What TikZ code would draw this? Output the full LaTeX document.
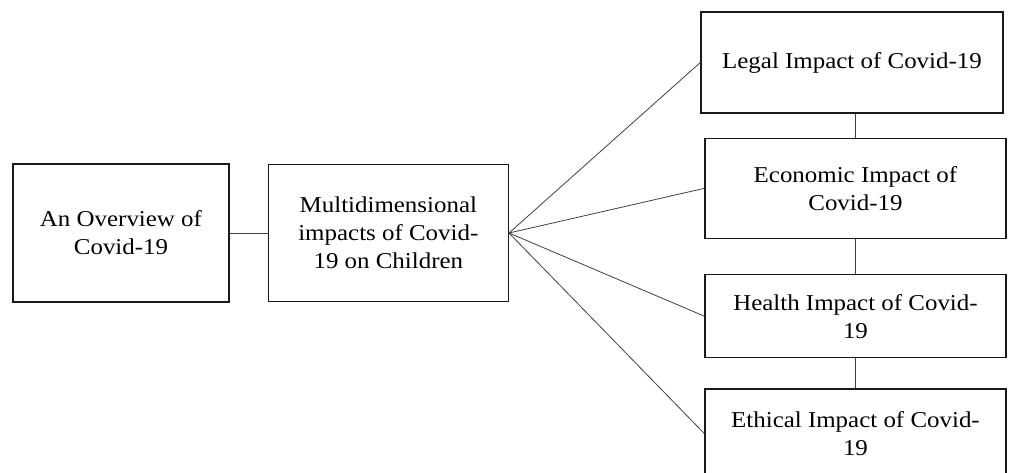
\documentclass[tikz,border=0pt]{standalone}
\usepackage{fontspec}
\setmainfont{Liberation Serif}[FakeStretch=1.1]
\usepackage{tikz}
\usetikzlibrary{calc}
\usetikzlibrary{positioning}

\begin{document}
\begin{tikzpicture}[x=0.75pt, y=-0.75pt, draw=black!85, font={\fontsize{17pt}{21pt}\selectfont}]
\tikzstyle{block}=[draw=black!90, line width=1pt, rectangle, fill=none, inner sep=0pt, align=center]
\tikzstyle{link}=[draw=black!75, line width=0.6pt]

\useasboundingbox (0,0) rectangle (1012,472);

\node[block, minimum width=162pt, minimum height=103.5pt] (overview) at (121,233) {An Overview of\\Covid-19};
\node[block, right=28.5pt of overview, minimum width=180pt, minimum height=103pt] (multi) {Multidimensional\\impacts of Covid-\\19 on Children};

\node[block, minimum width=226.5pt, minimum height=75.75pt] (legal) at (852,62.5) {Legal Impact of Covid-19};
\node[block, below=18pt of legal, xshift=2.6pt, minimum width=225.75pt, minimum height=75pt] (economic) {Economic Impact of\\Covid-19};
\node[block, below=26.25pt of economic, minimum width=225.75pt, minimum height=62.25pt] (health) {Health Impact of Covid-\\19};
\node[block, below=22.5pt of health, minimum width=225.75pt, minimum height=66.75pt] (ethical) {Ethical Impact of Covid-\\19};

\draw[link] (overview) -- (multi);

\draw[link] (multi.east) -- (legal.west);
\draw[link] (multi.east) -- (economic.west);
\draw[link] (multi.east) -- (health.west);
\draw[link] (multi.east) -- (ethical.west);

\draw[link] (economic.north |- legal.south) -- (economic.north);
\draw[link] (economic.south) -- (health.north);
\draw[link] (health.south) -- (ethical.north);
\end{tikzpicture}
\end{document}
